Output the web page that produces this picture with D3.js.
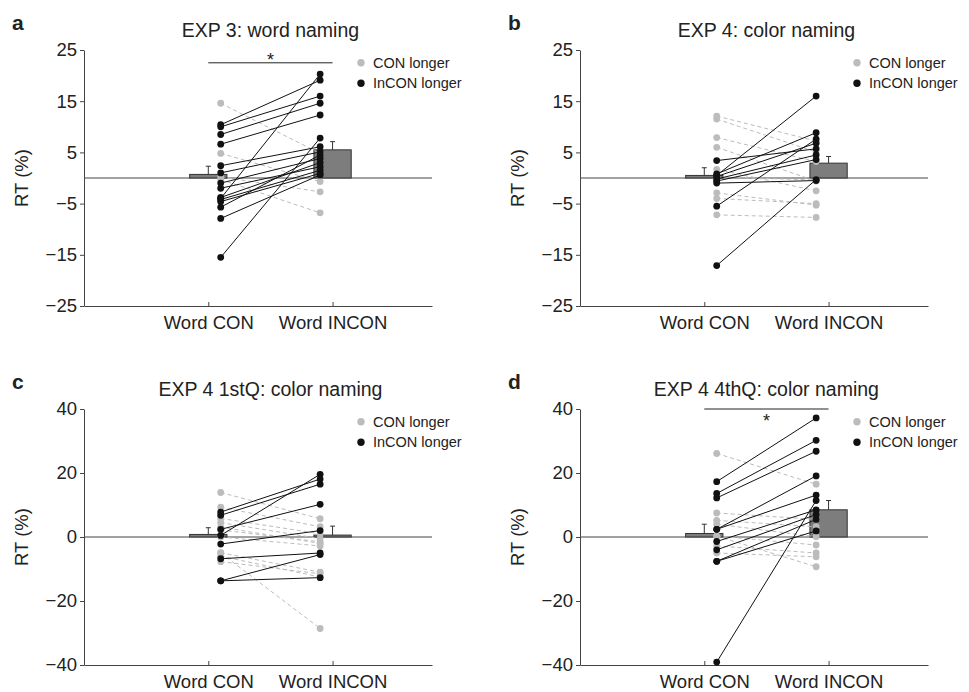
<!DOCTYPE html>
<html>
<head>
<meta charset="utf-8">
<script src="https://cdn.jsdelivr.net/npm/d3@7"></script>
<style>
  body { margin: 0; background: #fff; }
  svg text { font-family: "Liberation Sans", Arial, sans-serif; fill: #222; }
</style>
</head>
<body>
<script>
// per-subject RT differences (%), CON vs INCON
const aCon   = [14.6, 4.8, 0.2, -0.3, 10.4, 10.0, 8.5, 6.6, 2.4, 1.0, -1.0, -2.0, -3.8, -4.0, -4.2, -4.6, -5.7, -7.9, -15.5];
const aIncon = [4.8, -0.7, -2.7, -6.8, 19.1, 16.0, 14.6, 12.3, 6.1, 5.1, 3.8, 2.2, 3.0, 20.3, 1.5, 0.9, 4.5, 0.6, 7.8];

const bCon   = [12.1, 11.5, 7.9, 6.0, 1.7, -2.9, -4.0, -7.2, 0.2, 3.4, 0.8, 0.3, -0.2, -0.6, -1.0, -5.5, -17.1, 0.5];
const bIncon = [7.2, 5.1, 3.2, -0.6, -2.5, -5.3, -5.0, -7.7, -0.4, 5.7, 8.85, 6.8, 4.5, 3.6, -0.5, 7.6, -0.3, 16.0];

const cCon   = [13.9, 9.3, 5.8, 4.5, 3.1, 2.2, 0.0, -4.9, -5.0, -6.0, -7.7, 7.8, 6.8, 2.4, 0.5, -2.2, -6.8, -13.7, -13.7];
const cIncon = [5.7, 3.2, 1.0, -0.5, -2.0, -1.5, -2.8, -11.0, -28.6, -12.5, -11.5, 18.1, 16.5, 10.2, 19.6, 2.0, -5.0, -5.5, -12.7];

const dCon   = [26.1, 7.5, 5.2, 4.0, 0.3, -2.8, -5.0, 0.3, 17.3, 13.6, 12.2, 2.4, 2.4, -1.4, -4.0, -7.6, -7.6, -39.1];
const dIncon = [16.5, 5.5, 3.2, 0.1, -2.5, -5.0, -6.2, -9.3, 37.2, 30.2, 26.8, 19.1, 13.1, 8.5, 7.0, 1.9, 5.5, 11.4];

// group means and SE  [CON, INCON]
const aMean = [0.7, 5.5], aSE = [1.6, 1.6];
const bMean = [0.5, 2.9], bSE = [1.5, 1.3];
const cMean = [0.8, 0.6], cSE = [2.1, 2.8];
const dMean = [1.1, 8.5], dSE = [2.9, 2.9];

const categories = ["Word CON", "Word INCON"];
const titles = ["EXP 3: word naming", "EXP 4: color naming", "EXP 4 1stQ: color naming", "EXP 4 4thQ: color naming"];
const letters = ["a", "b", "c", "d"];
const ticksTop = [-25, -15, -5, 5, 15, 25];
const ticksBottom = [-40, -20, 0, 20, 40];
const legendLabels = ["CON longer", "InCON longer"];

const width = 969, height = 692;
const pw = 348, ph = 256;
const colX = [84, 580], rowY = [50, 409];

const svg = d3.select("body").append("svg")
  .attr("width", width).attr("height", height);

const panels = [
  {con: aCon, incon: aIncon, mean: aMean, se: aSE, domain: [-25, 25], ticks: ticksTop, sig: 22.5, starAbove: true},
  {con: bCon, incon: bIncon, mean: bMean, se: bSE, domain: [-25, 25], ticks: ticksTop},
  {con: cCon, incon: cIncon, mean: cMean, se: cSE, domain: [-40, 40], ticks: ticksBottom},
  {con: dCon, incon: dIncon, mean: dMean, se: dSE, domain: [-40, 40], ticks: ticksBottom, sig: 40, starAbove: false}
];

panels.forEach((p, i) => {
  const x0 = colX[i % 2], y0 = rowY[Math.floor(i / 2)];
  const x = d3.scaleLinear().domain([0, 2.8]).range([x0, x0 + pw]);
  const y = d3.scaleLinear().domain(p.domain).range([y0 + ph, y0]);
  const g = svg.append("g");

  // axes
  const ya = g.append("g").attr("transform", `translate(${x0},0)`)
    .call(d3.axisLeft(y).tickValues(p.ticks).tickSize(4).tickSizeOuter(0).tickPadding(3));
  const xa = g.append("g").attr("transform", `translate(0,${y0 + ph})`)
    .call(d3.axisBottom(x).tickValues([1, 2]).tickFormat((d, k) => categories[k])
      .tickSize(-4).tickSizeOuter(0).tickPadding(10));
  [ya, xa].forEach(a => {
    a.select(".domain").attr("stroke", "#444");
    a.selectAll(".tick line").attr("stroke", "#444");
    a.selectAll("text").style("font-size", "18.5px").attr("fill", "#222");
  });

  // zero line
  g.append("line")
    .attr("x1", x0).attr("x2", x0 + pw)
    .attr("y1", y(0)).attr("y2", y(0))
    .attr("stroke", "#444");

  // bars + error bars
  g.selectAll("rect.bar").data(p.mean).enter().append("rect")
    .attr("x", (d, k) => x(k + 1 - 0.15))
    .attr("width", x(0.3) - x(0))
    .attr("y", d => Math.min(y(d), y(0)))
    .attr("height", d => Math.abs(y(0) - y(d)))
    .attr("fill", "#7d7d7d").attr("stroke", "#333").attr("stroke-width", 1);
  p.mean.forEach((m, k) => {
    const xc = x(k + 1), top = y(m + p.se[k]);
    g.append("line").attr("x1", xc).attr("x2", xc).attr("y1", y(m)).attr("y2", top)
      .attr("stroke", "#333");
    g.append("line").attr("x1", xc - 2.5).attr("x2", xc + 2.5).attr("y1", top).attr("y2", top)
      .attr("stroke", "#333");
  });

  // subject lines
  const subj = p.con.map((c, k) => ({con: c, incon: p.incon[k], gray: c > p.incon[k]}));
  const ordered = subj.filter(d => d.gray).concat(subj.filter(d => !d.gray));
  g.selectAll("line.subj").data(ordered).enter().append("line")
    .attr("x1", x(1.1)).attr("x2", x(1.9))
    .attr("y1", d => y(d.con)).attr("y2", d => y(d.incon))
    .attr("stroke", d => d.gray ? "#bcbcbc" : "#111")
    .attr("stroke-width", 1)
    .attr("stroke-dasharray", d => d.gray ? "4,3" : null);
  ordered.forEach(d => {
    [[1.1, d.con], [1.9, d.incon]].forEach(([xv, yv]) => {
      g.append("circle").attr("cx", x(xv)).attr("cy", y(yv)).attr("r", 3.4)
        .attr("fill", d.gray ? "#bcbcbc" : "#111");
    });
  });

  // significance bracket
  if (p.sig !== undefined) {
    const ys = y(p.sig);
    g.append("line").attr("x1", x(1)).attr("x2", x(2)).attr("y1", ys).attr("y2", ys)
      .attr("stroke", "#222");
    g.append("text").attr("x", x(1.5)).attr("y", p.starAbove ? ys + 3 : ys + 18)
      .attr("text-anchor", "middle").style("font-size", "18px").text("*");
  }

  // title, letter, y label
  g.append("text").attr("x", x(1.5)).attr("y", y0 - 13.3)
    .attr("text-anchor", "middle").style("font-size", "19.5px").text(titles[i]);
  g.append("text").attr("x", x0 - 72).attr("y", y0 - 20)
    .style("font-size", "21px").style("font-weight", "bold").text(letters[i]);
  g.append("text")
    .attr("transform", `translate(${x0 - 56},${y0 + ph / 2}) rotate(-90)`)
    .attr("text-anchor", "middle").style("font-size", "18.5px").text("RT (%)");

  // legend
  legendLabels.forEach((lab, k) => {
    const ly = y0 + 12.7 + k * 20.6;
    g.append("circle").attr("cx", x0 + 277).attr("cy", ly).attr("r", 3.7)
      .attr("fill", k === 0 ? "#bcbcbc" : "#111");
    g.append("text").attr("x", x0 + 289).attr("y", ly + 5)
      .style("font-size", "14.5px").text(lab);
  });
});
</script>
</body>
</html>
